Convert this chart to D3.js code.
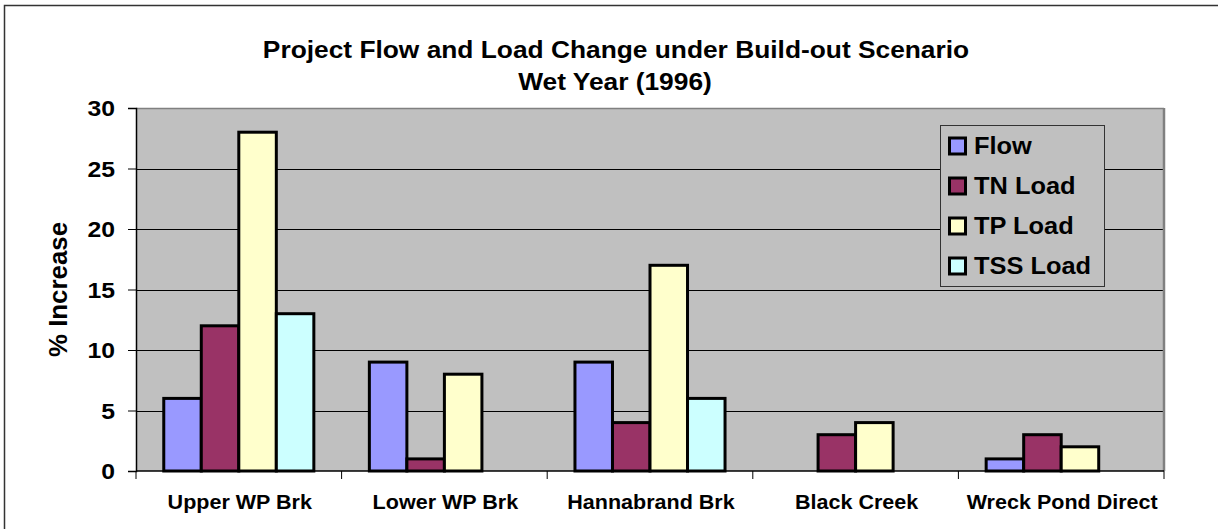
<!DOCTYPE html>
<html>
<head>
<meta charset="utf-8">
<script src="https://cdn.jsdelivr.net/npm/d3@7"></script>
<style>
  html, body { margin: 0; padding: 0; background: #ffffff; }
  svg { display: block; font-family: "Liberation Sans", Arial, sans-serif; font-weight: bold; }
</style>
</head>
<body>
<svg id="chart" width="1218" height="529"></svg>
<script>
// Percent increase per watershed under the build-out scenario, wet year 1996
const categories = ["Upper WP Brk", "Lower WP Brk", "Hannabrand Brk", "Black Creek", "Wreck Pond Direct"];
const seriesNames = ["Flow", "TN Load", "TP Load", "TSS Load"];
const flow    = [6, 9, 9, null, 1];
const tnLoad  = [12, 1, 4, 3, 3];
const tpLoad  = [28, 8, 17, 4, 2];
const tssLoad = [13, null, 6, null, null];
const yTicks  = [0, 5, 10, 15, 20, 25, 30];
const titleLines = ["Project Flow and Load Change under Build-out Scenario", "Wet Year (1996)"];
const yLabel = "% Increase";

const seriesValues = [flow, tnLoad, tpLoad, tssLoad];
const colors = ["#9999FF", "#993366", "#FFFFCC", "#CCFFFF"];

const svg = d3.select("#chart");
const plot = { left: 136, right: 1164, top: 108, bottom: 471 };

// Widen text horizontally by a factor, keeping its anchor
function widen(sel, k) {
  sel.each(function () {
    const w = this.getComputedTextLength();
    d3.select(this).attr("textLength", w * k).attr("lengthAdjust", "spacingAndGlyphs");
  });
}

// Outer chart frame
svg.append("rect")
  .attr("x", 4.5).attr("y", 5.5)
  .attr("width", 1260).attr("height", 600)
  .attr("fill", "#ffffff").attr("stroke", "#333").attr("stroke-width", 1.5);

const x0 = d3.scaleBand().domain(categories).range([plot.left, plot.right]).padding(0);
const x1 = d3.scaleBand().domain(seriesNames).range([0, x0.bandwidth()]).paddingInner(0).paddingOuter(0.74);
const y = d3.scaleLinear().domain([0, 30]).range([plot.bottom, plot.top]);

// Plot area background
svg.append("rect")
  .attr("x", plot.left).attr("y", plot.top)
  .attr("width", plot.right - plot.left).attr("height", plot.bottom - plot.top)
  .attr("fill", "#C0C0C0");

// Horizontal gridlines
svg.append("g").selectAll("line")
  .data(yTicks.filter(t => t > 0 && t < 30))
  .join("line")
  .attr("x1", plot.left).attr("x2", plot.right)
  .attr("y1", d => Math.round(y(d)) + 0.5).attr("y2", d => Math.round(y(d)) + 0.5)
  .attr("stroke", "#000").attr("stroke-width", 1);

// Plot border on top and right
svg.append("line")
  .attr("x1", plot.left).attr("x2", plot.right)
  .attr("y1", plot.top + 0.5).attr("y2", plot.top + 0.5)
  .attr("stroke", "#808080").attr("stroke-width", 1.5);
svg.append("line")
  .attr("x1", plot.right).attr("x2", plot.right)
  .attr("y1", plot.top).attr("y2", plot.bottom)
  .attr("stroke", "#808080").attr("stroke-width", 2.5);

// Bars
const groups = svg.append("g").selectAll("g")
  .data(categories)
  .join("g")
  .attr("transform", d => `translate(${x0(d)},0)`);

groups.selectAll("rect")
  .data((c, ci) => seriesNames.map((s, si) => ({ s, si, v: seriesValues[si][ci] })).filter(d => d.v != null && d.v > 0))
  .join("rect")
  .attr("x", d => x1(d.s))
  .attr("width", x1.bandwidth())
  .attr("y", d => y(d.v))
  .attr("height", d => y(0) - y(d.v))
  .attr("fill", d => colors[d.si])
  .attr("stroke", "#000")
  .attr("stroke-width", 3);

// Y axis
const yAxis = svg.append("g")
  .attr("transform", `translate(${plot.left},0)`)
  .call(d3.axisLeft(y).tickValues(yTicks).tickSize(8).tickPadding(13));
yAxis.select(".domain").attr("stroke", "#000").attr("stroke-width", 1.5);
yAxis.selectAll(".tick line").attr("stroke", "#000");
yAxis.selectAll(".tick text")
  .attr("font-size", 21.5).attr("font-weight", "bold").attr("fill", "#000")
  .attr("font-family", "Liberation Sans, Arial, sans-serif")
  .attr("dy", "0.36em")
  .call(widen, 1.15);

// X axis with ticks at category boundaries
const xAxisG = svg.append("g").attr("transform", `translate(0,${plot.bottom})`);
xAxisG.append("line")
  .attr("x1", plot.left).attr("x2", plot.right)
  .attr("y1", 0).attr("y2", 0)
  .attr("stroke", "#000").attr("stroke-width", 1.5);
const boundaries = categories.map(c => x0(c)).concat([x0(categories[categories.length - 1]) + x0.bandwidth()]);
xAxisG.selectAll("line.tick")
  .data(boundaries)
  .join("line")
  .attr("class", "tick")
  .attr("x1", d => d).attr("x2", d => d)
  .attr("y1", 0).attr("y2", 8)
  .attr("stroke", "#000").attr("stroke-width", 1);
xAxisG.selectAll("text")
  .data(categories)
  .join("text")
  .attr("x", d => x0(d) + x0.bandwidth() / 2 + 1)
  .attr("y", 38)
  .attr("text-anchor", "middle")
  .attr("font-size", 20.5)
  .attr("fill", "#000")
  .text(d => d)
  .call(widen, 1.05);

// Y axis title
svg.append("text")
  .attr("transform", `translate(67,${(plot.top + plot.bottom) / 2}) rotate(-90)`)
  .attr("text-anchor", "middle")
  .attr("font-size", 25)
  .attr("fill", "#000")
  .attr("textLength", 135).attr("lengthAdjust", "spacingAndGlyphs")
  .text(yLabel);

// Chart title
const title = svg.append("text")
  .attr("text-anchor", "middle")
  .attr("font-size", 23.5).attr("fill", "#000");
title.append("tspan").attr("x", 616).attr("y", 58).text(titleLines[0]);
title.append("tspan").attr("x", 615).attr("y", 90).text(titleLines[1]);
title.selectAll("tspan").each(function () {
  const w = this.getComputedTextLength();
  d3.select(this).attr("textLength", w * 1.12).attr("lengthAdjust", "spacingAndGlyphs");
});

// Legend
const legend = svg.append("g").attr("transform", "translate(940,125)");
legend.append("rect")
  .attr("x", 0.5).attr("y", 0.5).attr("width", 164).attr("height", 161)
  .attr("fill", "#C0C0C0").attr("stroke", "#333").attr("stroke-width", 1);
const rows = legend.selectAll("g.row")
  .data(seriesNames)
  .join("g")
  .attr("class", "row")
  .attr("transform", (d, i) => `translate(0,${21 + i * 40})`);
rows.append("rect")
  .attr("x", 9.5).attr("y", -8).attr("width", 16).attr("height", 16)
  .attr("fill", (d, i) => colors[i])
  .attr("stroke", "#000").attr("stroke-width", 3);
rows.append("text")
  .attr("x", 34).attr("y", 0).attr("dy", "0.36em")
  .attr("font-size", 23.5).attr("fill", "#000")
  .text(d => d)
  .call(widen, 1.08);
</script>
</body>
</html>
